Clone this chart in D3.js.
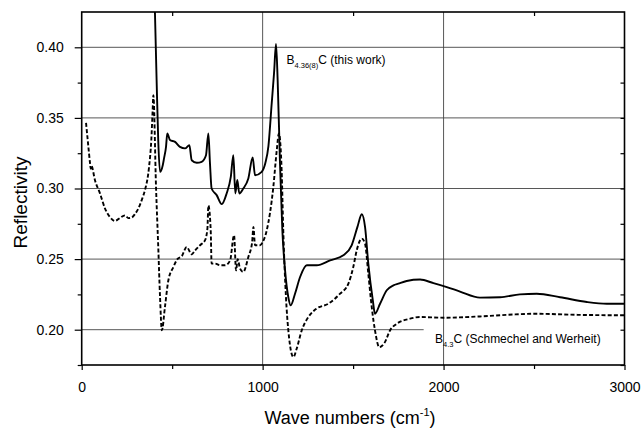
<!DOCTYPE html>
<html>
<head>
<meta charset="utf-8">
<script src="https://cdn.jsdelivr.net/npm/d3@7"></script>
<style>
  body { margin: 0; background: #fff; }
  svg { font-family: "Liberation Sans", Arial, sans-serif; }
</style>
</head>
<body>
<svg id="chart" width="642" height="429"></svg>
<script>
// reference spectrum, B4.3C (dashed)
const refWave = [24, 35, 46, 50, 54, 73, 101, 129, 155, 184, 210, 239, 258, 276, 295, 313, 335, 350, 372, 385, 392, 396,
  411, 423, 433, 443, 460, 479, 507, 529, 553, 580, 608, 627, 654, 682, 695, 700, 713, 718, 737, 765, 792, 820, 842,
  853, 862, 875, 893, 921, 942, 949, 958, 986, 1000, 1022, 1059, 1078, 1090, 1105, 1114, 1129, 1142, 1170, 1188,
  1216, 1253, 1299, 1363, 1428, 1474, 1501, 1520, 1548, 1566, 1584, 1603, 1621, 1645, 1676, 1704, 1741, 1815,
  1870, 2000, 2201, 2350, 2497, 2750, 3000];
const refRefl = [0.3465, 0.332, 0.318, 0.314, 0.316, 0.306, 0.2965, 0.2858, 0.280, 0.277, 0.279, 0.281, 0.279, 0.2794,
  0.282, 0.2858, 0.293, 0.299, 0.315, 0.335, 0.355, 0.366, 0.300, 0.259, 0.223, 0.1995, 0.216, 0.235, 0.2444, 0.250,
  0.252, 0.2586, 0.2534, 0.2562, 0.2598, 0.2634, 0.272, 0.288, 0.2704, 0.2468, 0.2468, 0.2456, 0.2456, 0.249, 0.2669,
  0.242, 0.250, 0.2433, 0.2409, 0.2515, 0.262, 0.2728, 0.2598, 0.2598, 0.262, 0.270, 0.301, 0.327, 0.339, 0.313,
  0.2704, 0.223, 0.1995, 0.1806, 0.1865, 0.1995, 0.209, 0.215, 0.2184, 0.2255, 0.2326, 0.2444, 0.2562, 0.2645,
  0.261, 0.2397, 0.216, 0.1995, 0.1876, 0.1912, 0.1995, 0.2042, 0.2078, 0.209, 0.2085, 0.2094, 0.2105, 0.2113,
  0.2105, 0.2102];

// this work, B4.36(8)C (solid)
const workWave = [400, 414, 423, 433, 448, 455, 466, 473, 488, 516, 543, 571, 595, 608, 636, 663, 687, 700, 709, 718,
  746, 774, 801, 824, 838, 849, 860, 871, 893, 921, 945, 958, 995, 1015, 1032, 1050, 1063, 1074, 1083, 1096, 1109,
  1124, 1142, 1155, 1179, 1207, 1244, 1299, 1373, 1446, 1492, 1524, 1548, 1566, 1584, 1609, 1621, 1649, 1686,
  1723, 1750, 1796, 1870, 1944, 2018, 2091, 2201, 2312, 2422, 2515, 2644, 2792, 2902, 3000];
const workRefl = [0.45, 0.3768, 0.334, 0.3118, 0.3165, 0.3213, 0.3295, 0.339, 0.3343, 0.333, 0.3295, 0.3284, 0.3307,
  0.320, 0.3182, 0.3189, 0.3236, 0.339, 0.3177, 0.300, 0.2953, 0.2889, 0.2965, 0.3082, 0.3236, 0.2965, 0.306,
  0.2965, 0.300, 0.3071, 0.322, 0.3094, 0.3118, 0.318, 0.330, 0.360, 0.3816, 0.4023, 0.3768, 0.3177, 0.2704,
  0.242, 0.223, 0.2172, 0.2255, 0.2373, 0.2456, 0.2456, 0.2491, 0.2527, 0.2598, 0.2728, 0.2818, 0.2728, 0.2468,
  0.2208, 0.2113, 0.2184, 0.2279, 0.2314, 0.2326, 0.2345, 0.2355, 0.233, 0.2302, 0.2270, 0.2227, 0.223, 0.225,
  0.2255, 0.223, 0.2196, 0.2184, 0.2184];

const xMajor = [0, 1000, 2000, 3000];
const xMinor = [500, 1500, 2500];
const yMajor = [0.20, 0.25, 0.30, 0.35, 0.40];
const yMinor = [0.175, 0.225, 0.275, 0.325, 0.375];

const svg = d3.select('#chart');
const plot = { left: 81.7, right: 624.5, top: 12, bottom: 365 };

const x = d3.scaleLinear().domain([0, 3000]).range([plot.left, plot.right]);
const y = d3.scaleLinear().domain([0.175, 0.425]).range([plot.bottom, plot.top]);

// clip for the curves
svg.append('clipPath').attr('id', 'clip')
  .append('rect')
  .attr('x', plot.left).attr('y', plot.top)
  .attr('width', plot.right - plot.left).attr('height', plot.bottom - plot.top);

// grid lines
const grid = svg.append('g').attr('stroke', '#444').attr('stroke-width', 0.9);
grid.selectAll('.hgrid').data(yMajor).enter().append('line')
  .attr('x1', plot.left)
  .attr('x2', (d) => (d === 0.20 ? x(1890) : plot.right))
  .attr('y1', (d) => y(d)).attr('y2', (d) => y(d));
grid.selectAll('.vgrid').data([1000, 2000]).enter().append('line')
  .attr('x1', (d) => x(d)).attr('x2', (d) => x(d))
  .attr('y1', plot.top).attr('y2', plot.bottom);

// axes
const axisStyle = (g) => {
  g.select('.domain').remove();
  g.selectAll('.tick line').attr('stroke', '#000').attr('stroke-width', 1.2);
  g.selectAll('.tick text').attr('font-size', 14).attr('fill', '#000')
    .attr('font-family', '"Liberation Sans", Arial, sans-serif');
};

svg.append('g').attr('transform', `translate(${plot.left},0)`)
  .call(d3.axisLeft(y).tickValues(yMajor).tickSize(7).tickPadding(11).tickFormat(d3.format('.2f')))
  .call(axisStyle);
svg.append('g').attr('transform', `translate(${plot.left},0)`)
  .call(d3.axisLeft(y).tickValues(yMinor).tickSize(4).tickFormat(''))
  .call(axisStyle);
svg.append('g').attr('transform', `translate(${plot.right},0)`)
  .call(d3.axisRight(y).tickValues(yMinor.concat(yMajor)).tickSize(-4).tickFormat(''))
  .call(axisStyle);

svg.append('g').attr('transform', `translate(0,${plot.bottom})`)
  .call(d3.axisBottom(x).tickValues(xMajor).tickSize(5).tickPadding(12).tickFormat(d3.format('d')))
  .call(axisStyle);
svg.append('g').attr('transform', `translate(0,${plot.bottom})`)
  .call(d3.axisBottom(x).tickValues(xMinor).tickSize(4).tickFormat(''))
  .call(axisStyle);
svg.append('g').attr('transform', `translate(0,${plot.top})`)
  .call(d3.axisTop(x).tickValues(xMinor).tickSize(-4).tickFormat(''))
  .call(axisStyle);

// frame
svg.append('rect')
  .attr('x', plot.left).attr('y', plot.top)
  .attr('width', plot.right - plot.left).attr('height', plot.bottom - plot.top)
  .attr('fill', 'none').attr('stroke', '#000').attr('stroke-width', 1.6);

// curves
const line = d3.line()
  .x((d) => x(d[0]))
  .y((d) => y(d[1]))
  .curve(d3.curveMonotoneX);

const curves = svg.append('g').attr('clip-path', 'url(#clip)').attr('fill', 'none').attr('stroke', '#000');
curves.append('path')
  .attr('d', line(d3.zip(refWave, refRefl)))
  .attr('stroke-width', 1.9)
  .attr('stroke-dasharray', '4,2.2');
curves.append('path')
  .attr('d', line(d3.zip(workWave, workRefl)))
  .attr('stroke-width', 1.9);

// labels
svg.append('text')
  .attr('transform', `translate(27,${(plot.top + plot.bottom) / 2 + 14}) rotate(-90)`)
  .attr('text-anchor', 'middle')
  .attr('font-size', 19)
  .attr('fill', '#000')
  .text('Reflectivity');

const xLabel = svg.append('text')
  .attr('x', 350).attr('y', 424)
  .attr('text-anchor', 'middle')
  .attr('font-size', 18)
  .attr('fill', '#000');
xLabel.append('tspan').text('Wave numbers (cm');
xLabel.append('tspan').attr('font-size', 11).attr('dy', -8).text('-1');
xLabel.append('tspan').attr('dy', 8).text(')');

const note1 = svg.append('text').attr('x', 286.5).attr('y', 63.5).attr('font-size', 12).attr('fill', '#000');
note1.append('tspan').text('B');
note1.append('tspan').attr('font-size', 7.5).attr('dy', 4).text('4.36(8)');
note1.append('tspan').attr('dy', -4).text('C (this work)');

const note2 = svg.append('text').attr('x', 435).attr('y', 343).attr('font-size', 12).attr('fill', '#000');
note2.append('tspan').text('B');
note2.append('tspan').attr('font-size', 7.5).attr('dy', 4).text('4.3');
note2.append('tspan').attr('dy', -4).text('C (Schmechel and Werheit)');
</script>
</body>
</html>
